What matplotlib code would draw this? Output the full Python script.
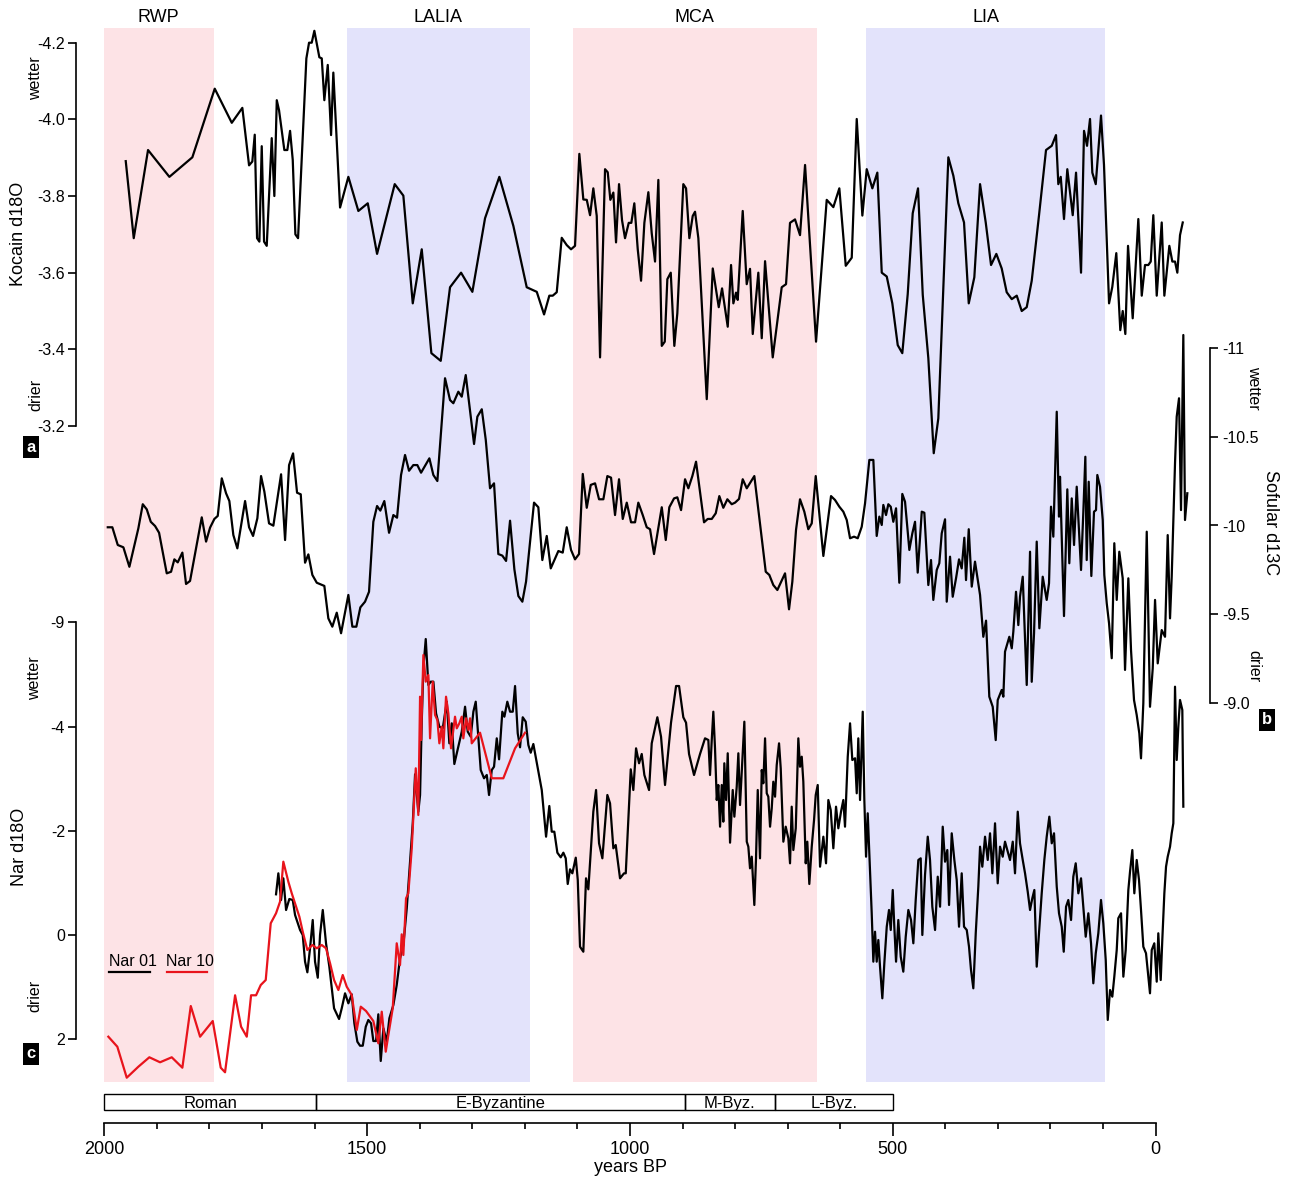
import numpy as np
import matplotlib
matplotlib.use("Agg")
import matplotlib.pyplot as plt
import matplotlib.transforms as mtransforms
from matplotlib.lines import Line2D
from matplotlib.patches import Rectangle

plt.rcParams['font.family'] = ['Liberation Sans', 'DejaVu Sans']
plt.rcParams['axes.unicode_minus'] = False

# climate periods, years BP
period_names = ["RWP", "LALIA", "MCA", "LIA"]
period_start = [2003, 1538, 1109, 551]
period_end = [1792, 1191, 644, 96]
period_colors = ["#fde3e6", "#e3e3fb", "#fde3e6", "#e3e3fb"]

# historical periods, years BP
hist_names = ["Roman", "E-Byzantine", "M-Byz.", "L-Byz."]
hist_start = [2000, 1597, 896, 725]
hist_end = [1597, 896, 725, 499]

# (age BP, value)
kocain = [
    (1959.2, -3.891), (1944.0, -3.690), (1916.8, -3.920), (1876.2, -3.850), (1832.5, -3.901),
    (1789.9, -4.080), (1757.5, -3.991), (1737.4, -4.030), (1724.6, -3.880), (1718.4, -3.890),
    (1713.8, -3.960), (1709.4, -3.690), (1705.0, -3.681), (1700.5, -3.930), (1696.1, -3.681),
    (1691.0, -3.670), (1681.5, -3.951), (1676.5, -3.800), (1671.9, -4.050), (1667.6, -4.024),
    (1657.5, -3.920), (1651.8, -3.920), (1646.6, -3.970), (1641.5, -3.894), (1636.5, -3.700),
    (1631.4, -3.690), (1615.6, -4.159), (1610.5, -4.200), (1605.4, -4.200), (1600.4, -4.231),
    (1590.9, -4.162), (1586.3, -4.159), (1581.4, -4.050), (1574.9, -4.142), (1568.6, -3.959),
    (1564.3, -4.122), (1551.5, -3.770), (1535.7, -3.850), (1516.7, -3.761), (1498.8, -3.781),
    (1481.1, -3.649), (1447.5, -3.831), (1431.1, -3.801), (1413.2, -3.520), (1396.1, -3.661),
    (1377.8, -3.390), (1360.0, -3.370), (1342.3, -3.562), (1321.3, -3.600), (1299.8, -3.550),
    (1275.7, -3.742), (1248.5, -3.850), (1221.8, -3.722), (1196.4, -3.562), (1177.3, -3.550),
    (1163.4, -3.491), (1153.4, -3.540), (1146.9, -3.540), (1139.3, -3.549), (1129.8, -3.691),
    (1120.3, -3.672), (1112.1, -3.661), (1104.5, -3.670), (1096.3, -3.910), (1088.7, -3.791),
    (1082.2, -3.790), (1075.9, -3.750), (1069.7, -3.820), (1063.2, -3.748), (1056.9, -3.379),
    (1047.4, -3.870), (1042.3, -3.862), (1037.3, -3.790), (1031.6, -3.809), (1026.5, -3.679),
    (1020.8, -3.831), (1015.1, -3.737), (1009.4, -3.690), (1002.3, -3.730), (997.4, -3.730),
    (991.7, -3.781), (985.2, -3.661), (978.9, -3.579), (972.6, -3.730), (965.0, -3.810),
    (958.6, -3.703), (952.3, -3.629), (946.0, -3.842), (939.5, -3.409), (933.8, -3.420),
    (928.9, -3.583), (922.4, -3.600), (915.6, -3.409), (909.9, -3.494), (898.5, -3.831),
    (893.3, -3.820), (887.0, -3.690), (880.6, -3.748), (876.2, -3.759), (869.9, -3.690),
    (853.9, -3.270), (842.5, -3.611), (831.1, -3.510), (824.8, -3.559), (814.0, -3.459),
    (807.7, -3.620), (803.3, -3.520), (798.2, -3.548), (795.0, -3.529), (785.5, -3.761),
    (777.9, -3.570), (771.6, -3.610), (766.4, -3.440), (755.8, -3.600), (749.3, -3.429),
    (743.0, -3.630), (728.4, -3.379), (711.3, -3.562), (703.1, -3.570), (695.5, -3.730),
    (686.0, -3.739), (676.5, -3.698), (666.9, -3.881), (646.0, -3.420), (625.7, -3.790),
    (613.1, -3.771), (601.7, -3.820), (589.5, -3.618), (578.1, -3.639), (568.6, -4.001),
    (557.9, -3.749), (549.6, -3.870), (538.9, -3.820), (529.4, -3.861), (521.0, -3.600),
    (511.5, -3.590), (500.9, -3.520), (490.6, -3.411), (481.9, -3.390), (471.6, -3.544),
    (462.1, -3.755), (452.0, -3.820), (443.0, -3.542), (432.4, -3.377), (422.1, -3.129),
    (413.4, -3.220), (394.3, -3.901), (384.8, -3.853), (375.3, -3.781), (364.5, -3.731),
    (355.5, -3.520), (344.9, -3.588), (334.0, -3.831), (323.2, -3.731), (313.1, -3.620),
    (303.0, -3.649), (292.8, -3.611), (283.3, -3.549), (273.7, -3.531), (264.2, -3.540),
    (254.7, -3.500), (245.2, -3.510), (235.7, -3.579), (221.8, -3.750), (208.5, -3.920),
    (197.6, -3.931), (189.5, -3.959), (185.1, -3.831), (180.5, -3.850), (174.3, -3.740),
    (168.0, -3.870), (157.7, -3.750), (151.4, -3.861), (141.9, -3.600), (136.2, -3.970),
    (130.5, -3.931), (124.8, -4.001), (120.4, -3.861), (113.9, -3.831), (103.9, -4.010),
    (98.2, -3.881), (88.6, -3.520), (82.4, -3.563), (74.8, -3.651), (67.2, -3.450),
    (62.6, -3.500), (57.6, -3.440), (52.5, -3.670), (43.6, -3.481), (32.9, -3.740),
    (26.4, -3.540), (20.2, -3.620), (13.9, -3.620), (9.3, -3.629), (4.4, -3.750),
    (-2.1, -3.540), (-11.6, -3.731), (-16.6, -3.540), (-26.1, -3.670), (-31.8, -3.629),
    (-36.9, -3.629), (-41.3, -3.600), (-46.4, -3.698), (-51.6, -3.731),
]

sofular = [
    (1993.4, -9.990), (1984.7, -9.990), (1974.4, -9.890), (1963.7, -9.877), (1952.3, -9.767),
    (1935.2, -9.984), (1926.8, -10.120), (1919.2, -10.091), (1911.6, -10.021), (1903.4, -9.997),
    (1895.8, -9.959), (1881.2, -9.730), (1873.0, -9.739), (1866.7, -9.809), (1860.3, -9.792),
    (1851.5, -9.847), (1844.5, -9.670), (1836.9, -9.687), (1827.3, -9.843), (1814.6, -10.046),
    (1806.4, -9.909), (1798.8, -9.988), (1790.6, -10.037), (1784.2, -10.054), (1776.5, -10.266),
    (1768.4, -10.182), (1762.1, -10.138), (1754.5, -9.946), (1746.9, -9.871), (1732.2, -10.138),
    (1724.6, -9.990), (1717.0, -9.941), (1708.8, -10.041), (1701.8, -10.279), (1695.5, -10.191),
    (1686.6, -10.012), (1678.4, -9.999), (1663.7, -10.289), (1656.1, -9.918), (1648.5, -10.341),
    (1640.9, -10.407), (1633.3, -10.185), (1626.3, -10.176), (1618.1, -9.790), (1611.8, -9.837),
    (1604.2, -9.721), (1595.8, -9.677), (1581.4, -9.659), (1573.8, -9.476), (1566.2, -9.429),
    (1557.8, -9.508), (1549.6, -9.392), (1535.7, -9.608), (1528.1, -9.429), (1520.5, -9.429),
    (1512.9, -9.538), (1504.0, -9.570), (1496.4, -9.626), (1488.2, -10.021), (1481.1, -10.110),
    (1474.9, -10.084), (1467.3, -10.138), (1458.3, -9.959), (1450.1, -10.059), (1443.1, -10.044),
    (1435.5, -10.285), (1427.9, -10.398), (1420.3, -10.309), (1412.1, -10.341), (1404.5, -10.341),
    (1397.4, -10.298), (1381.6, -10.379), (1374.0, -10.285), (1366.4, -10.251), (1351.8, -10.831),
    (1342.3, -10.708), (1336.0, -10.690), (1326.5, -10.755), (1320.0, -10.727), (1312.4, -10.849),
    (1296.6, -10.460), (1290.3, -10.614), (1281.9, -10.656), (1274.3, -10.483), (1266.2, -10.210),
    (1258.6, -10.238), (1250.4, -9.839), (1242.8, -9.830), (1235.7, -9.800), (1228.1, -10.027),
    (1219.9, -9.753), (1212.3, -9.602), (1204.7, -9.570), (1197.7, -9.683), (1182.5, -10.129),
    (1174.3, -10.103), (1166.7, -9.805), (1158.3, -9.941), (1150.7, -9.758), (1136.2, -9.856),
    (1127.9, -9.847), (1120.3, -9.990), (1112.1, -9.862), (1104.5, -9.809), (1096.9, -9.839),
    (1089.8, -10.291), (1082.2, -10.100), (1074.6, -10.229), (1066.4, -10.238), (1058.8, -10.148),
    (1050.6, -10.148), (1043.0, -10.279), (1036.0, -10.270), (1028.4, -10.059), (1020.8, -10.261),
    (1013.7, -10.037), (1006.1, -10.129), (997.9, -10.018), (990.3, -10.018), (984.1, -10.129),
    (975.7, -10.059), (968.1, -9.990), (961.8, -9.979), (954.2, -9.839), (939.5, -10.103),
    (931.9, -9.918), (925.1, -10.103), (916.1, -10.153), (909.9, -10.159), (902.8, -10.087),
    (895.2, -10.261), (888.9, -10.210), (881.3, -10.279), (874.3, -10.360), (859.1, -10.018),
    (852.0, -10.037), (844.4, -10.037), (836.8, -10.069), (830.0, -10.166), (822.4, -10.100),
    (814.7, -10.148), (806.4, -10.120), (800.1, -10.129), (792.5, -10.150), (785.5, -10.261),
    (777.8, -10.210), (763.4, -10.279), (741.7, -9.739), (734.9, -9.721), (727.3, -9.664),
    (719.6, -9.636), (705.0, -9.730), (697.4, -9.527), (691.1, -9.683), (684.1, -9.975),
    (676.5, -10.148), (668.3, -10.078), (660.7, -9.979), (654.2, -10.012), (646.6, -10.279),
    (632.1, -9.828), (617.5, -10.166), (609.9, -10.144), (601.7, -10.106), (594.1, -10.078),
    (587.6, -10.031), (581.3, -9.928), (573.7, -9.937), (566.7, -9.928), (559.1, -9.993),
    (552.8, -10.125), (544.6, -10.370), (537.0, -10.370), (530.6, -9.941), (525.6, -10.050),
    (521.0, -10.003), (518.0, -10.116), (512.9, -10.059), (508.5, -10.120), (503.9, -10.106),
    (499.0, -10.021), (493.8, -10.097), (487.6, -9.677), (481.9, -10.178), (476.7, -10.134),
    (468.5, -9.862), (462.8, -9.956), (457.7, -10.021), (452.6, -9.734), (444.9, -10.078),
    (440.0, -10.072), (432.4, -9.664), (427.3, -9.805), (422.9, -9.580), (416.4, -9.749),
    (411.5, -9.787), (406.9, -9.956), (400.6, -10.035), (397.4, -9.570), (391.1, -9.824),
    (386.0, -9.598), (379.7, -9.702), (374.0, -9.809), (368.9, -9.758), (363.9, -9.931),
    (360.7, -9.692), (355.5, -9.979), (349.8, -9.655), (343.6, -9.796), (334.0, -9.608),
    (327.8, -9.372), (322.6, -9.463), (316.4, -9.034), (309.9, -8.977), (304.2, -8.789),
    (300.4, -9.015), (292.8, -9.072), (289.7, -9.034), (286.5, -9.288), (278.3, -9.372),
    (273.7, -9.307), (270.7, -9.401), (265.6, -9.626), (261.2, -9.438), (258.0, -9.598),
    (252.8, -9.711), (245.2, -9.100), (238.9, -9.852), (235.7, -9.118), (231.3, -9.392),
    (226.2, -9.909), (221.2, -9.420), (214.8, -9.711), (207.2, -9.580), (202.8, -9.674),
    (199.0, -10.106), (194.6, -9.937), (188.1, -10.642), (183.8, -10.050), (181.9, -10.275),
    (174.3, -9.489), (168.0, -10.204), (164.2, -9.787), (159.6, -10.153), (155.2, -9.890),
    (150.1, -10.219), (145.1, -9.928), (141.9, -9.749), (137.5, -10.078), (133.7, -10.388),
    (131.1, -9.805), (127.3, -10.247), (122.3, -9.715), (117.2, -10.078), (113.4, -10.087),
    (110.9, -10.285), (105.8, -10.219), (100.6, -10.031), (97.6, -9.721), (93.0, -9.561),
    (88.6, -9.448), (83.5, -9.251), (78.6, -9.900), (74.0, -9.580), (69.1, -9.852),
    (62.6, -9.702), (58.2, -9.185), (51.9, -9.702), (46.8, -9.297), (41.1, -9.015),
    (36.0, -8.931), (31.0, -8.827), (27.8, -8.686), (23.4, -8.997), (16.9, -9.965),
    (10.7, -8.977), (5.5, -9.194), (1.1, -9.580), (-4.0, -9.222), (-11.6, -9.410),
    (-17.9, -9.372), (-23.0, -9.946), (-27.4, -9.476), (-30.6, -9.711), (-36.9, -10.351),
    (-40.1, -10.614), (-44.5, -10.718), (-48.3, -10.087), (-52.7, -11.075), (-55.9, -10.031),
    (-60.3, -10.182),
]

nar01 = [
    (1673.3, -0.781), (1668.9, -1.184), (1663.7, -0.672), (1659.4, -1.088), (1654.2, -0.480),
    (1648.0, -0.691), (1641.5, -0.672), (1637.1, -0.384), (1627.6, -0.096), (1622.5, 0.000),
    (1618.1, 0.512), (1613.7, 0.716), (1608.6, 0.255), (1603.5, -0.288), (1599.1, 0.512),
    (1593.9, 0.820), (1589.6, 0.000), (1584.4, -0.480), (1578.2, 0.159), (1571.9, 0.608),
    (1562.9, 1.407), (1553.4, 1.612), (1548.3, 1.407), (1542.0, 1.119), (1535.7, 1.311),
    (1529.3, 1.138), (1524.3, 1.695), (1518.6, 2.048), (1513.5, 2.125), (1508.3, 2.125),
    (1502.6, 1.760), (1497.7, 1.631), (1492.5, 1.695), (1488.2, 2.035), (1483.0, 2.035),
    (1478.7, 1.522), (1474.1, 2.418), (1469.1, 1.791), (1462.7, 2.048), (1457.7, 1.599),
    (1450.1, 1.344), (1443.7, 0.960), (1437.4, 0.447), (1431.1, 0.192), (1424.6, -0.512),
    (1418.4, -1.407), (1413.2, -2.144), (1408.8, -3.084), (1402.6, -2.367), (1399.3, -2.687),
    (1396.1, -4.094), (1393.0, -5.119), (1388.5, -5.681), (1383.5, -4.798), (1379.0, -4.862),
    (1374.0, -4.862), (1368.9, -4.255), (1362.6, -3.998), (1356.1, -3.967), (1348.5, -4.478),
    (1343.6, -3.679), (1339.0, -4.063), (1334.1, -3.282), (1326.5, -3.614), (1320.0, -3.902),
    (1313.7, -4.382), (1308.6, -3.902), (1302.9, -3.806), (1297.9, -4.286), (1293.4, -4.478),
    (1283.9, -3.167), (1277.6, -3.008), (1272.4, -3.071), (1268.1, -2.687), (1262.9, -3.167),
    (1258.6, -3.230), (1253.4, -3.775), (1249.0, -3.372), (1242.8, -4.286), (1238.9, -4.190),
    (1233.3, -4.478), (1228.1, -4.286), (1223.0, -4.286), (1218.6, -4.779), (1213.5, -3.871),
    (1209.1, -3.603), (1204.0, -4.179), (1198.3, -4.094), (1193.3, -3.647), (1188.8, -3.499),
    (1183.8, -3.666), (1175.4, -3.200), (1167.8, -2.783), (1159.6, -1.887), (1153.4, -2.476),
    (1148.8, -1.983), (1143.9, -1.983), (1138.1, -1.580), (1131.7, -1.491), (1126.7, -1.580),
    (1122.2, -1.472), (1118.4, -0.979), (1114.0, -1.261), (1109.6, -1.184), (1103.1, -1.484),
    (1099.3, -1.056), (1095.0, 0.225), (1088.7, 0.321), (1083.6, -1.088), (1079.2, -0.877),
    (1069.7, -2.367), (1064.5, -2.783), (1058.8, -1.760), (1052.5, -1.472), (1043.0, -2.687),
    (1037.9, -2.528), (1031.6, -1.664), (1027.1, -1.727), (1018.9, -1.088), (1011.3, -1.184),
    (1008.0, -1.184), (998.5, -3.180), (993.6, -2.783), (988.4, -3.583), (982.7, -3.296),
    (977.6, -3.474), (972.6, -3.071), (963.7, -2.783), (958.6, -3.679), (947.9, -4.179),
    (940.9, -3.806), (933.3, -2.879), (921.9, -4.075), (912.3, -4.779), (906.6, -4.779),
    (898.5, -4.179), (893.3, -4.075), (887.6, -3.474), (878.1, -3.071), (866.7, -3.474),
    (857.2, -3.775), (850.9, -3.743), (847.7, -3.071), (844.4, -3.743), (841.4, -4.286),
    (838.2, -3.583), (834.9, -2.591), (831.9, -2.879), (828.6, -2.079), (825.4, -2.879),
    (822.4, -2.175), (820.5, -3.296), (817.2, -2.591), (814.0, -3.488), (809.6, -1.772),
    (804.5, -2.783), (801.4, -2.271), (796.9, -2.846), (793.8, -3.488), (790.6, -2.495),
    (787.4, -3.134), (782.4, -4.094), (777.8, -1.791), (774.8, -1.695), (771.6, -1.280),
    (768.3, -1.503), (765.3, -0.927), (763.4, -0.576), (760.2, -1.472), (756.9, -2.783),
    (752.6, -1.472), (749.3, -3.167), (746.3, -2.912), (743.0, -3.775), (739.8, -2.720),
    (736.8, -2.655), (733.5, -2.079), (730.3, -2.432), (727.3, -2.942), (724.0, -2.655),
    (720.8, -3.263), (716.4, -3.679), (713.2, -3.200), (708.2, -1.791), (703.7, -2.079),
    (698.7, -1.856), (695.5, -1.376), (692.3, -2.463), (689.2, -1.631), (684.6, -2.048),
    (679.7, -3.775), (676.5, -3.230), (673.2, -3.422), (670.2, -2.942), (665.6, -1.376),
    (662.6, -1.791), (658.8, -0.979), (654.2, -1.695), (649.8, -2.207), (646.6, -2.687),
    (642.8, -2.879), (638.4, -1.311), (632.1, -1.887), (627.0, -1.376), (622.6, -2.591),
    (618.1, -2.399), (613.1, -1.664), (608.0, -2.463), (603.6, -2.048), (598.5, -2.367),
    (594.1, -2.591), (590.9, -2.079), (585.7, -3.422), (581.3, -4.063), (577.0, -3.359),
    (571.8, -3.392), (568.6, -2.720), (565.6, -3.775), (562.3, -2.591), (557.2, -4.286),
    (554.1, -2.591), (550.9, -1.503), (547.7, -2.336), (544.6, -1.568), (540.1, -0.417),
    (537.0, 0.512), (533.8, -0.063), (530.6, 0.512), (527.5, 0.096), (524.3, 0.608),
    (519.9, 1.215), (516.1, 0.543), (511.5, -0.159), (507.2, -0.480), (503.9, -0.096),
    (500.1, -0.864), (497.1, -0.159), (493.8, 0.512), (489.5, -0.288), (484.9, 0.417),
    (480.0, 0.704), (475.4, 0.033), (470.4, -0.480), (465.3, -0.288), (460.9, 0.159),
    (456.4, -0.672), (451.4, -1.440), (446.9, -1.472), (443.8, 0.000), (438.7, -1.152),
    (433.5, -1.887), (429.2, -1.440), (424.8, -0.543), (419.6, -0.096), (414.5, -1.119),
    (410.1, -0.543), (405.0, -2.079), (400.6, -1.407), (396.3, -1.631), (393.0, -0.576),
    (387.9, -1.952), (382.9, -1.440), (378.4, -1.056), (374.0, -0.159), (368.9, -1.184),
    (364.5, -0.159), (359.3, -0.096), (355.0, 0.225), (351.2, 0.672), (346.8, 1.023),
    (342.2, -0.033), (337.3, -0.927), (334.0, -1.695), (329.7, -1.311), (324.5, -1.887),
    (319.4, -1.440), (315.0, -1.952), (310.6, -1.184), (305.5, -2.144), (300.4, -0.992),
    (296.0, -1.695), (290.9, -1.503), (286.5, -1.791), (281.4, -1.599), (277.0, -1.440),
    (271.8, -1.791), (267.5, -1.184), (262.3, -2.367), (258.0, -1.760), (252.8, -1.440),
    (248.4, -1.184), (243.3, -0.831), (238.9, -0.480), (234.6, -0.704), (230.7, -0.864),
    (226.2, 0.608), (221.8, -0.033), (216.7, -0.800), (211.7, -1.440), (207.2, -1.887),
    (202.2, -2.271), (197.6, -1.760), (193.3, -1.952), (188.1, -0.927), (183.8, -0.417),
    (178.6, -0.159), (174.8, 0.321), (170.4, -0.543), (166.1, -0.672), (160.9, -0.288),
    (156.6, -1.119), (152.0, -1.376), (147.0, -0.800), (141.9, -1.088), (137.5, -0.543),
    (133.0, 0.033), (128.0, -0.417), (122.9, 0.159), (118.5, 0.927), (113.9, 0.351),
    (109.0, -0.033), (103.9, -0.672), (99.5, -0.225), (94.9, 0.480), (91.1, 1.631),
    (86.7, 1.056), (82.4, 1.184), (78.6, 0.800), (74.0, 0.288), (71.0, -0.321),
    (65.8, -0.417), (61.4, 0.800), (56.9, 0.288), (51.9, -0.864), (48.7, -1.215),
    (44.3, -1.631), (40.5, -0.800), (36.0, -1.440), (31.6, -1.056), (27.8, -0.480),
    (23.4, 0.225), (18.3, 0.351), (13.9, 0.800), (10.7, 1.119), (7.4, 0.288),
    (2.5, 0.159), (-2.1, 0.896), (-5.1, -0.033), (-9.7, 0.864), (-12.7, 0.096),
    (-16.6, -0.800), (-19.8, -1.311), (-23.0, -1.503), (-27.4, -1.695), (-30.6, -1.952),
    (-33.7, -2.144), (-36.9, -4.766), (-40.1, -3.359), (-43.2, -3.998), (-46.4, -4.511),
    (-50.8, -4.319), (-52.7, -2.463),
]

nar10 = [
    (1992.3, 1.952), (1975.2, 2.144), (1957.3, 2.739), (1935.2, 2.528), (1914.3, 2.347),
    (1893.9, 2.443), (1871.7, 2.347), (1851.5, 2.547), (1835.5, 1.363), (1817.8, 1.952),
    (1793.7, 1.651), (1778.5, 2.547), (1770.3, 2.635), (1751.2, 1.157), (1739.8, 1.760),
    (1729.0, 1.952), (1720.8, 1.157), (1711.3, 1.157), (1702.4, 0.960), (1692.9, 0.864),
    (1683.4, -0.225), (1673.3, -0.417), (1665.7, -0.639), (1659.4, -1.407), (1649.9, -1.023),
    (1643.4, -0.800), (1628.9, -0.351), (1622.5, -0.063), (1613.7, 0.288), (1604.2, 0.192),
    (1595.8, 0.255), (1586.3, 0.192), (1578.2, 0.255), (1570.5, 0.543), (1562.9, 0.864),
    (1554.7, 1.056), (1546.4, 0.768), (1538.8, 0.992), (1529.3, 1.152), (1519.7, 1.823),
    (1512.1, 1.376), (1502.1, 1.459), (1488.2, 1.651), (1478.7, 2.079), (1472.2, 1.472),
    (1464.6, 2.240), (1459.6, 1.919), (1451.3, 1.407), (1443.7, 0.159), (1437.4, 0.576),
    (1434.2, -0.013), (1431.1, 0.384), (1426.0, -0.704), (1421.6, -0.800), (1415.1, -1.664),
    (1407.5, -3.200), (1402.6, -2.303), (1399.3, -4.574), (1397.4, -3.743), (1393.0, -5.374),
    (1388.5, -4.862), (1383.5, -4.990), (1380.3, -3.775), (1375.2, -4.862), (1370.8, -4.223),
    (1366.4, -4.127), (1362.6, -3.679), (1358.1, -3.998), (1355.0, -3.583), (1349.9, -4.574),
    (1345.5, -4.255), (1340.4, -3.583), (1332.8, -4.190), (1329.5, -3.967), (1324.6, -4.063),
    (1320.0, -4.190), (1317.0, -3.775), (1311.8, -4.159), (1307.4, -3.935), (1304.2, -4.159),
    (1301.0, -3.679), (1285.2, -3.883), (1262.9, -3.008), (1240.9, -3.008), (1218.6, -3.583),
    (1199.6, -3.883),
]

kocain_age, kocain_d18o = np.array(kocain).T
sofular_age, sofular_d13c = np.array(sofular).T
nar01_age, nar01_d18o = np.array(nar01).T
nar10_age, nar10_d18o = np.array(nar10).T

W, H = 1291, 1177
TOP_PX, BOT_PX = 28, 1123          # vertical extent of the plotting area
LEFT_PX, RIGHT_PX = 104.3, 1190
X_LEFT, X_RIGHT = 2000, -65.4


def fx(px):
    return px / W


def fy(py):
    return 1 - py / H


def ax_frac_y(py):
    return (BOT_PX - py) / (BOT_PX - TOP_PX)


def ax_frac_x(px):
    return (px - LEFT_PX) / (RIGHT_PX - LEFT_PX)


def ylim_from(v0, y0, v1, y1):
    # two tick values and their pixel rows -> limits of the full-height axes
    k = (v1 - v0) / (y1 - y0)
    return v0 + (BOT_PX - y0) * k, v0 + (TOP_PX - y0) * k


fig = plt.figure(figsize=(W / 100, H / 100), dpi=100)
rect = [fx(LEFT_PX), fy(BOT_PX), (RIGHT_PX - LEFT_PX) / W, (BOT_PX - TOP_PX) / H]

ax = fig.add_axes(rect)
ax.set_xlim(X_LEFT, X_RIGHT)
ax.set_ylim(0, 1)
ax.set_yticks([])
for side in ["left", "right", "top"]:
    ax.spines[side].set_visible(False)
ax.spines["bottom"].set_bounds(0, 2000)
ax.spines["bottom"].set_linewidth(1.2)
ax.set_xticks([0, 500, 1000, 1500, 2000])
ax.set_xticks(np.arange(0, 2001, 100), minor=True)
ax.tick_params(axis="x", which="major", length=9, width=1.2, labelsize=13, pad=4)
ax.tick_params(axis="x", which="minor", length=4.5, width=1.2)
fig.text(fx(631), fy(1167), "years BP", ha="center", va="center", fontsize=13)

trans = mtransforms.blended_transform_factory(ax.transData, ax.transAxes)
for name, s, e, c in zip(period_names, period_start, period_end, period_colors):
    ax.axvspan(s, e, ymin=ax_frac_y(1082), ymax=1, color=c, lw=0, zorder=0)
    ax.text((s + e) / 2, ax_frac_y(18), name, transform=trans, ha="center",
            va="center", fontsize=13, clip_on=False)

box_y0, box_h = ax_frac_y(1110), ax_frac_y(1094) - ax_frac_y(1110)
for name, s, e in zip(hist_names, hist_start, hist_end):
    ax.add_patch(Rectangle((e, box_y0), s - e, box_h, transform=trans, fill=False,
                           ec="black", lw=1.0, clip_on=False))
    ax.text((s + e) / 2, box_y0 + box_h / 2, name, transform=trans, ha="center",
            va="center_baseline", fontsize=12)


def series_axes(ylim):
    a = fig.add_axes(rect)
    a.set_facecolor("none")
    a.set_xlim(X_LEFT, X_RIGHT)
    a.set_ylim(*ylim)
    a.set_xticks([])
    for sp in a.spines.values():
        sp.set_visible(False)
    return a


# a: Kocain
ax_k = series_axes(ylim_from(-4.2, 42.7, -3.2, 426.0))
ax_k.plot(kocain_age, kocain_d18o, color="black", lw=1.6)
ax_k.spines["left"].set_visible(True)
ax_k.spines["left"].set_position(("axes", ax_frac_x(76)))
ax_k.spines["left"].set_bounds(-4.2, -3.2)
ax_k.spines["left"].set_linewidth(1.2)
k_ticks = [-4.2, -4.0, -3.8, -3.6, -3.4, -3.2]
ax_k.set_yticks(k_ticks)
ax_k.set_yticklabels([f"{t:.1f}" for t in k_ticks])
ax_k.tick_params(axis="y", length=6, width=1.2, labelsize=11.5, pad=2)

# b: Sofular
ax_s = series_axes(ylim_from(-11, 348.3, -9, 702.7))
ax_s.plot(sofular_age, sofular_d13c, color="black", lw=1.6)
ax_s.spines["right"].set_visible(True)
ax_s.spines["right"].set_position(("axes", ax_frac_x(1210)))
ax_s.spines["right"].set_bounds(-11, -9)
ax_s.spines["right"].set_linewidth(1.2)
ax_s.yaxis.tick_right()
ax_s.set_yticks([-11, -10.5, -10, -9.5, -9.0])
ax_s.set_yticklabels(["-11", "-10.5", "-10", "-9.5", "-9.0"])
ax_s.tick_params(axis="y", length=6, width=1.2, labelsize=11.5, pad=3)

# c: Nar
ax_n = series_axes(ylim_from(0, 935.0, 2, 1039.2))
ax_n.plot(nar01_age, nar01_d18o, color="black", lw=1.6)
ax_n.plot(nar10_age, nar10_d18o, color="#e8141c", lw=1.6)
ax_n.spines["left"].set_visible(True)
ax_n.spines["left"].set_position(("axes", ax_frac_x(76)))
ax_n.spines["left"].set_bounds(-6, 2)
ax_n.spines["left"].set_linewidth(1.2)
ax_n.set_yticks([-6, -4, -2, 0, 2])
ax_n.set_yticklabels(["-9", "-4", "-2", "0", "2"])
ax_n.tick_params(axis="y", length=6, width=1.2, labelsize=11.5, pad=2)

# legend for Nar
fig.text(fx(109), fy(962), "Nar 01", ha="left", va="center", fontsize=11.5)
fig.text(fx(166), fy(962), "Nar 10", ha="left", va="center", fontsize=11.5)
fig.add_artist(Line2D([fx(109), fx(150)], [fy(972), fy(972)], color="black", lw=1.6))
fig.add_artist(Line2D([fx(167), fx(207)], [fy(972), fy(972)], color="#e8141c", lw=1.6))

# axis titles and wetter/drier hints
fig.text(fx(19), fy(234), "Kocain d18O", rotation=90, ha="center", va="center", fontsize=13)
fig.text(fx(19), fy(847), "Nar d18O", rotation=90, ha="center", va="center", fontsize=13)
fig.text(fx(1270), fy(523), "Sofular d13C", rotation=-90, ha="center", va="center", fontsize=13)
for x, y, s, rot in [(36, 78, "wetter", 90), (36, 395, "drier", 90),
                     (35, 678, "wetter", 90), (35, 996, "drier", 90),
                     (1254, 388, "wetter", -90), (1254, 666, "drier", -90)]:
    fig.text(fx(x), fy(y), s, rotation=rot, ha="center", va="center", fontsize=11.5)

for x, y, s in [(31, 447, "a"), (1267, 720, "b"), (31, 1054, "c")]:
    fig.text(fx(x), fy(y), s, color="white", fontweight="bold", fontsize=12,
             ha="center", va="center",
             bbox=dict(boxstyle="square,pad=0.2", fc="black", ec="none"))

fig.savefig("out.png", dpi=100)
